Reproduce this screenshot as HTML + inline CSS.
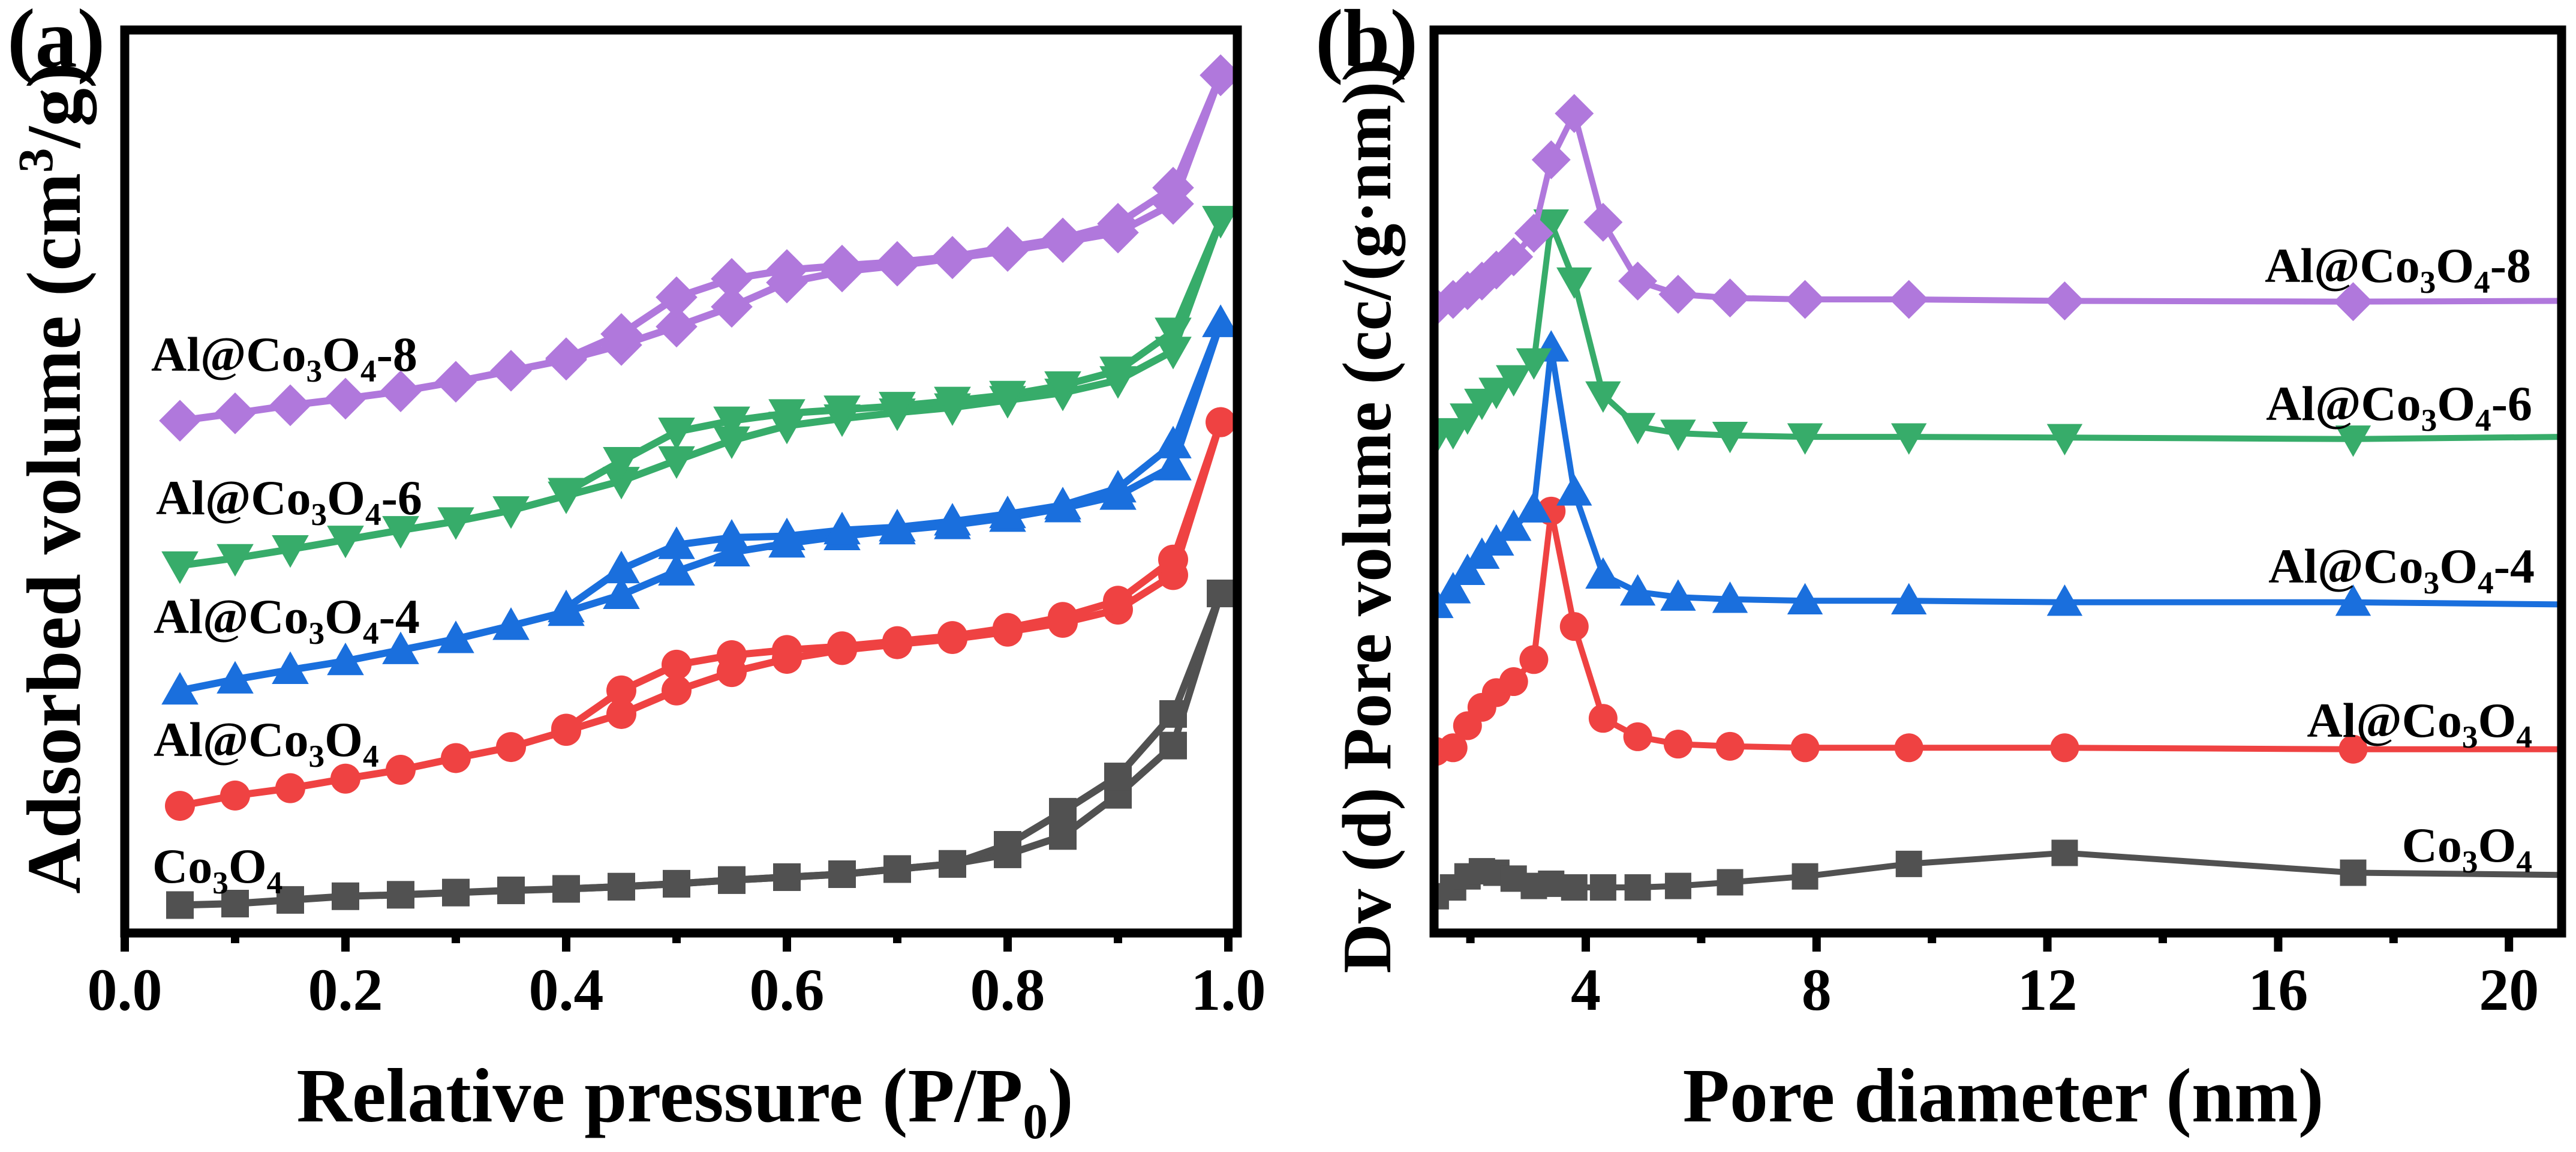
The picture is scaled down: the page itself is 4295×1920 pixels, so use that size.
<!DOCTYPE html>
<html><head><meta charset="utf-8"><style>
html,body{margin:0;padding:0;background:#fff;}
svg{display:block;font-family:"Liberation Serif","DejaVu Serif","Times New Roman",serif;}
svg text{font-family:"Liberation Serif","DejaVu Serif","Times New Roman",serif;font-weight:bold;fill:#000;}
</style></head><body>
<svg id="fig" width="4295" height="1920" viewBox="0 0 4295 1920" xmlns="http://www.w3.org/2000/svg" font-family="Liberation Serif, DejaVu Serif, serif" font-weight="bold">
<g id="pa"></g>
<g id="pb"></g>
</svg>
<script>
// ---------- Panel (a) data ----------
const aX = [0.05,0.1,0.15,0.2,0.25,0.3,0.35,0.4,0.45,0.5,0.55,0.6,0.65,0.7,0.75,0.8,0.85,0.9,0.95,0.993];
const aDesX = [0.4,0.45,0.5,0.55,0.6,0.65,0.7,0.75,0.8,0.85,0.9,0.95,0.993];
const aCoAds = [38,40,45,50,52,55,58,60,63,67,72,76,80,87,94,107,132,188,255,462];
const aCoDes = [60,63,67,72,76,80,87,94,120,165,213,298,462];
const aAlAds = [173,187,197,210,222,238,253,275,298,330,355,373,385,393,400,410,422,440,487,695];
const aAlDes = [278,330,365,378,385,390,397,404,415,430,452,508,695];
const aAl4Ads = [330,345,358,370,385,400,418,437,460,492,518,530,540,548,555,565,578,595,635,830];
const aAl4Des = [442,495,528,538,540,548,552,560,570,582,605,665,830];
const aAl6Ads = [500,510,522,535,548,560,575,595,615,643,670,690,700,708,715,725,735,752,792,970];
const aAl6Des = [600,642,682,697,707,712,717,724,732,745,765,818,970];
const aAl8Ads = [697,707,718,727,737,750,765,780,800,825,852,885,900,908,918,928,940,953,992,1167];
const aAl8Des = [782,815,865,890,902,908,913,920,933,945,965,1014,1167];
const aTicks = [0,0.2,0.4,0.6,0.8,1.0];
const aTickLabels = ["0.0","0.2","0.4","0.6","0.8","1.0"];
const aMinor = [0.1,0.3,0.5,0.7,0.9];

// ---------- Panel (b) data ----------
const bX = [1.4,1.7,1.95,2.2,2.45,2.75,3.1,3.4,3.8,4.3,4.9,5.6,6.5,7.8,9.6,12.3,17.3,20.9];
const bCo = [50,62,77,84,82,74,64,67,62,62,62,64,69,77,94,109,82,79];
const bAl = [247,252,282,307,327,342,372,574,417,292,267,257,254,252,252,252,250,250];
const bAl4 = [447,467,492,514,532,552,577,796,600,487,464,457,454,452,452,450,450,447];
const bAl6 = [674,682,702,722,737,754,777,966,887,732,689,680,677,675,675,674,672,675];
const bAl8 = [852,862,874,887,902,920,952,1052,1115,967,887,869,864,862,862,860,859,860];
const bTicks = [4,8,12,16,20];
const bTickLabels = ["4","8","12","16","20"];
const bMinor = [2,6,10,14,18];

const NS="http://www.w3.org/2000/svg";
function mk(tag, parent, attrs){const e=document.createElementNS(NS,tag);for(const k in attrs)e.setAttribute(k,attrs[k]);parent.appendChild(e);return e;}

const FF="Liberation Serif, DejaVu Serif, serif";
const COL={co:"#515151",al:"#ef4242",al4:"#1a6fdd",al6:"#37ac6a",al8:"#b078dc"};
const Y0=1555, KY=1.225;
function yS(v){return Y0-KY*v;}
function xA(v){return 208+1840*v;}
function xB(v){return 2644+96.2*(v-4);}

function marker(g,shape,cx,cy,s,color){
  let e;
  if(shape==="sq"){e=mk("rect",g,{x:cx-s/2,y:cy-s/2,width:s,height:s,fill:color});}
  else if(shape==="ci"){e=mk("circle",g,{cx:cx,cy:cy,r:s/2,fill:color});}
  else if(shape==="tu"){e=mk("polygon",g,{points:`${cx},${cy-s*0.55} ${cx-s*0.55},${cy+s*0.42} ${cx+s*0.55},${cy+s*0.42}`,fill:color});}
  else if(shape==="td"){e=mk("polygon",g,{points:`${cx},${cy+s*0.55} ${cx-s*0.55},${cy-s*0.42} ${cx+s*0.55},${cy-s*0.42}`,fill:color});}
  else {e=mk("polygon",g,{points:`${cx},${cy-s*0.58} ${cx+s*0.58},${cy} ${cx},${cy+s*0.58} ${cx-s*0.58},${cy}`,fill:color});}
  
  
}
function series(g,xs,ys,xf,color,shape,size,lw,skipLast,name){
  const sg=mk("g",g,{});
  
  
  const pts=xs.map((x,i)=>xf(x).toFixed(1)+","+yS(ys[i]).toFixed(1)).join(" ");
  const pl=mk("polyline",sg,{points:pts,fill:"none",stroke:color,"stroke-width":lw,"stroke-linejoin":"round"});
  
  
  xs.forEach((x,i)=>{ if(skipLast && i===xs.length-1) return; marker(sg,shape,xf(x),yS(ys[i]),size,color);});
}
function label(g,x,y,parts,anchor,fs,name){
  const t=mk("text",g,{x:x,y:y,"font-size":fs,"text-anchor":anchor,"font-family":FF,"font-weight":"bold"});
  
  
  parts.forEach(p=>{
    const ts=mk("tspan",t,{});
    if(p.sub){ts.setAttribute("font-size",fs*0.65);ts.setAttribute("dy",fs*0.22);}
    else if(p.back){ts.setAttribute("dy",-fs*0.22);}
    ts.textContent=p.t;
  });
  return t;
}
function al(suffix){
  const a=[{t:"Al@Co"},{t:"3",sub:true},{t:"O",back:true},{t:"4",sub:true}];
  if(suffix) a.push({t:suffix,back:true});
  return a;
}
const coParts=[{t:"Co"},{t:"3",sub:true},{t:"O",back:true},{t:"4",sub:true}];

function frame(g,x1,x2,ticks,labels,minor,xf,name){
  const r=mk("rect",g,{x:x1,y:50,width:x2-x1,height:Y0-50,fill:"none",stroke:"#000","stroke-width":15});
  
  
  ticks.forEach((t,i)=>{
    const l=mk("line",g,{x1:xf(t),x2:xf(t),y1:Y0,y2:1586,stroke:"#000","stroke-width":14});
    
    
    const tx=mk("text",g,{x:xf(t),y:1683,"font-size":100,"text-anchor":"middle","font-family":FF,"font-weight":"bold"});
    
    
    tx.textContent=labels[i];
  });
  minor.forEach(t=>{
    const l=mk("line",g,{x1:xf(t),x2:xf(t),y1:Y0,y2:1572,stroke:"#000","stroke-width":14});
    
    
  });
}

// ----- Panel A -----
const pa=document.getElementById("pa");
const pac=mk("g",pa,{});


const LWA=12;
series(pac,aX,aCoAds,xA,COL.co,"sq",46,LWA,false,"co3o4-adsorption");
series(pac,aDesX,aCoDes,xA,COL.co,"sq",46,LWA,false,"co3o4-desorption");
series(pac,aX,aAlAds,xA,COL.al,"ci",50,LWA,false,"al-co3o4-adsorption");
series(pac,aDesX,aAlDes,xA,COL.al,"ci",50,LWA,false,"al-co3o4-desorption");
series(pac,aX,aAl4Ads,xA,COL.al4,"tu",56,LWA,false,"al-co3o4-4-adsorption");
series(pac,aDesX,aAl4Des,xA,COL.al4,"tu",56,LWA,false,"al-co3o4-4-desorption");
series(pac,aX,aAl6Ads,xA,COL.al6,"td",56,LWA,false,"al-co3o4-6-adsorption");
series(pac,aDesX,aAl6Des,xA,COL.al6,"td",56,LWA,false,"al-co3o4-6-desorption");
series(pac,aX,aAl8Ads,xA,COL.al8,"di",60,LWA,false,"al-co3o4-8-adsorption");
series(pac,aDesX,aAl8Des,xA,COL.al8,"di",60,LWA,false,"al-co3o4-8-desorption");
frame(pa,208,2063,aTicks,aTickLabels,aMinor,xA,"panel-a");
label(pa,252,618,al("-8"),"start",82,"label-al-co3o4-8");
label(pa,260,857,al("-6"),"start",82,"label-al-co3o4-6");
label(pa,256,1055,al("-4"),"start",82,"label-al-co3o4-4");
label(pa,256,1260,al(""),"start",82,"label-al-co3o4");
label(pa,254,1471,coParts,"start",82,"label-co3o4");
label(pa,1142,1869,[{t:"Relative pressure (P/P"},{t:"0",sub:true},{t:")",back:true}],"middle",128,"x-axis-title-a");
const yta=mk("text",pa,{x:0,y:0,"font-size":128,"text-anchor":"middle",transform:"translate(133,797) rotate(-90)","font-family":FF,"font-weight":"bold"});


yta.innerHTML='Adsorbed volume (cm<tspan font-size="83" dy="-46">3</tspan><tspan dy="46">/g)</tspan>';
const lba=mk("text",pa,{x:12,y:111,"font-size":140,"font-family":FF,"font-weight":"bold"});


lba.textContent="(a)";

// ----- Panel B -----
const pb=document.getElementById("pb");
const clip=mk("clipPath",pb,{id:"cb"});
mk("rect",clip,{x:2391,y:50,width:4271-2391,height:Y0-50});
const pbc=mk("g",pb,{"clip-path":"url(#cb)"});


const LWB=10;
series(pbc,bX,bCo,xB,COL.co,"sq",44,LWB,true,"co3o4-pore");
series(pbc,bX,bAl,xB,COL.al,"ci",48,LWB,true,"al-co3o4-pore");
series(pbc,bX,bAl4,xB,COL.al4,"tu",54,LWB,true,"al-co3o4-4-pore");
series(pbc,bX,bAl6,xB,COL.al6,"td",54,LWB,true,"al-co3o4-6-pore");
series(pbc,bX,bAl8,xB,COL.al8,"di",56,LWB,true,"al-co3o4-8-pore");
frame(pb,2391,4271,bTicks,bTickLabels,bMinor,xB,"panel-b");
label(pb,4220,470,al("-8"),"end",82,"label-b-al-co3o4-8");
label(pb,4222,700,al("-6"),"end",82,"label-b-al-co3o4-6");
label(pb,4226,971,al("-4"),"end",82,"label-b-al-co3o4-4");
label(pb,4222,1228,al(""),"end",82,"label-b-al-co3o4");
label(pb,4222,1436,coParts,"end",82,"label-b-co3o4");
const xtb=mk("text",pb,{x:3340,y:1869,"font-size":128,"text-anchor":"middle","font-family":FF,"font-weight":"bold"});


xtb.textContent="Pore diameter (nm)";
const ytb=mk("text",pb,{x:0,y:0,"font-size":115,"text-anchor":"middle",transform:"translate(2318,860) rotate(-90)","font-family":FF,"font-weight":"bold"});


ytb.textContent="Dv (d) Pore volume (cc/(g\u00b7nm))";
const lbb=mk("text",pb,{x:2193,y:112,"font-size":140,"font-family":FF,"font-weight":"bold"});


lbb.textContent="(b)";
</script>
</body></html>
